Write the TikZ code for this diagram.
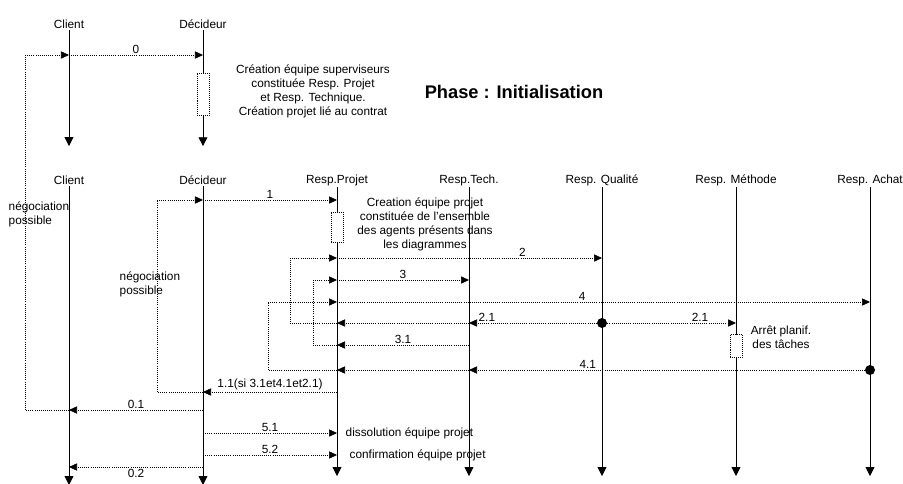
\documentclass[tikz,border=0pt]{standalone}
\usepackage{fontspec}
\setmainfont{Liberation Sans}
\usetikzlibrary{arrows.meta,positioning,calc}

\begin{document}
\begin{tikzpicture}[x=0.025cm, y=-0.025cm,
  lbl/.style={font=\fontsize{8.4}{10}\selectfont, inner sep=1pt},
  actor/.style={lbl},
  life/.style={line width=0.6pt, -{Triangle[length=2.2mm, width=2.2mm]}},
  msg/.style={densely dotted, line width=0.5pt, -{Triangle[length=2mm, width=1.8mm]}},
  neg/.style={densely dotted, line width=0.5pt},
  act/.style={draw, densely dotted, fill=white, minimum width=0.3cm, inner sep=0pt},
  fork/.style={circle, fill=black, inner sep=0pt, minimum size=2.5mm},
]
\useasboundingbox (0,0) rectangle (903,483);

% first sheet
\node[actor] (cl0) at (69,24) {Client};
\node[actor] (de0) at (203,24) {Décideur};
\draw[life] (cl0.south) -- ++(0,116);
\draw[life] (de0.south) -- ++(0,116);
\node[act, minimum height=1.05cm] (a0) at (203,94) {};
\node[lbl, align=center] (t0) at (313,91) {Création équipe superviseurs\\constituée Resp. Projet\\et Resp. Technique.\\Création projet lié au contrat};
\node[font=\bfseries\fontsize{13}{15}\selectfont] (ph) at (514,92) {Phase : Initialisation};

\coordinate (m0) at (25,55);
\draw[msg] (m0) -- (cl0 |- m0);
\draw[msg] (cl0 |- m0) -- node[lbl, above] {0} (de0 |- m0);

% second sheet
\node[actor] (cl1) at (69,180) {Client};
\node[actor] (de1) at (203,180) {Décideur};
\node[actor] (rp) at (337,180) {Resp.Projet};
\node[actor] (rt) at (469,180) {Resp.Tech.};
\node[actor] (rq) at (602,180) {Resp. Qualité};
\node[actor] (rm) at (736,180) {Resp. Méthode};
\node[actor] (ra) at (870,180) {Resp. Achat};
\coordinate (bot) at (0,476);
\coordinate (edge) at (0,485);
\draw[life] (cl1.south) -- (cl1 |- edge);
\draw[life] (de1.south) -- (de1 |- edge);
\foreach \n in {rp,rt,rq,rm,ra}
  \draw[life] (\n.south) -- (\n |- bot);
\node[act, minimum height=0.75cm] (a1) at (337,227) {};
\node[act, minimum height=0.575cm] (a2) at (736,346) {};
\node[lbl, align=center] (t1) at (425,224) {Creation équipe projet\\constituée de l'ensemble\\des agents présents dans\\les diagrammes};
\node[lbl, align=center] (t2) at (781,337) {Arrêt planif.\\des tâches};
\node[lbl, align=left, anchor=west] (n0) at (7,214) {négociation\\possible};
\node[lbl, align=left, anchor=west] (n1) at (118,284) {négociation\\possible};

\coordinate (y1) at (157,200);
\coordinate (y2) at (290,258);
\coordinate (y3) at (313,280);
\coordinate (y4) at (268,302);
\coordinate (y21) at (290,323);
\coordinate (y31) at (313,345);
\coordinate (y41) at (268,370);
\coordinate (y11) at (157,392);
\coordinate (y01) at (25,410);
\coordinate (y51) at (0,433);
\coordinate (y52) at (0,455);
\coordinate (y02) at (0,467);

\draw[msg] (y1) -- (de1 |- y1);
\draw[msg] (de1 |- y1) -- node[lbl, above] {1} (rp |- y1);
\draw[msg] (y2) -- (rp |- y2);
\draw[msg] (rp |- y2) -- node[lbl, above, pos=0.7] {2} (rq |- y2);
\draw[msg] (y3) -- (rp |- y3);
\draw[msg] (rp |- y3) -- node[lbl, above] {3} (rt |- y3);
\draw[msg] (y4) -- (rp |- y4);
\draw[msg] (rp |- y4) -- node[lbl, above, pos=0.46] {4} (ra |- y4);

\node[fork] (q) at (rq |- y21) {};
\draw[msg] (q) -- node[lbl, above, pos=0.86] {2.1} (rt |- y21);
\draw[msg] (rt |- y21) -- (rp |- y21);
\draw[neg] (rp |- y21) -- (y21) -- (y2);
\draw[msg] (q) -- node[lbl, above, pos=0.72] {2.1} (rm |- y21);

\draw[msg] (rt |- y31) -- node[lbl, above] {3.1} (rp |- y31);
\draw[neg] (rp |- y31) -- (y31) -- (y3);

\node[fork] (h) at (ra |- y41) {};
\draw[msg] (h) -- node[lbl, above, pos=0.7] {4.1} (rt |- y41);
\draw[msg] (rt |- y41) -- (rp |- y41);
\draw[neg] (rp |- y41) -- (y41) -- (y4);

\draw[msg] (rp |- y11) -- node[lbl, above] {1.1(si 3.1et4.1et2.1)} (de1 |- y11);
\draw[neg] (de1 |- y11) -- (y11) -- (y1);
\draw[msg] (de1 |- y01) -- node[lbl, above] {0.1} (cl1 |- y01);
\draw[neg] (cl1 |- y01) -- (y01) -- (m0);

\draw[msg] (de1 |- y51) -- node[lbl, above] {5.1} (rp |- y51);
\node[lbl, anchor=west] (d1) at (344,433) {dissolution équipe projet};
\draw[msg] (de1 |- y52) -- node[lbl, above] {5.2} (rp |- y52);
\node[lbl, anchor=west] (d2) at (348,455) {confirmation équipe projet};
\draw[msg] (de1 |- y02) -- node[lbl, below] {0.2} (cl1 |- y02);
\end{tikzpicture}
\end{document}
